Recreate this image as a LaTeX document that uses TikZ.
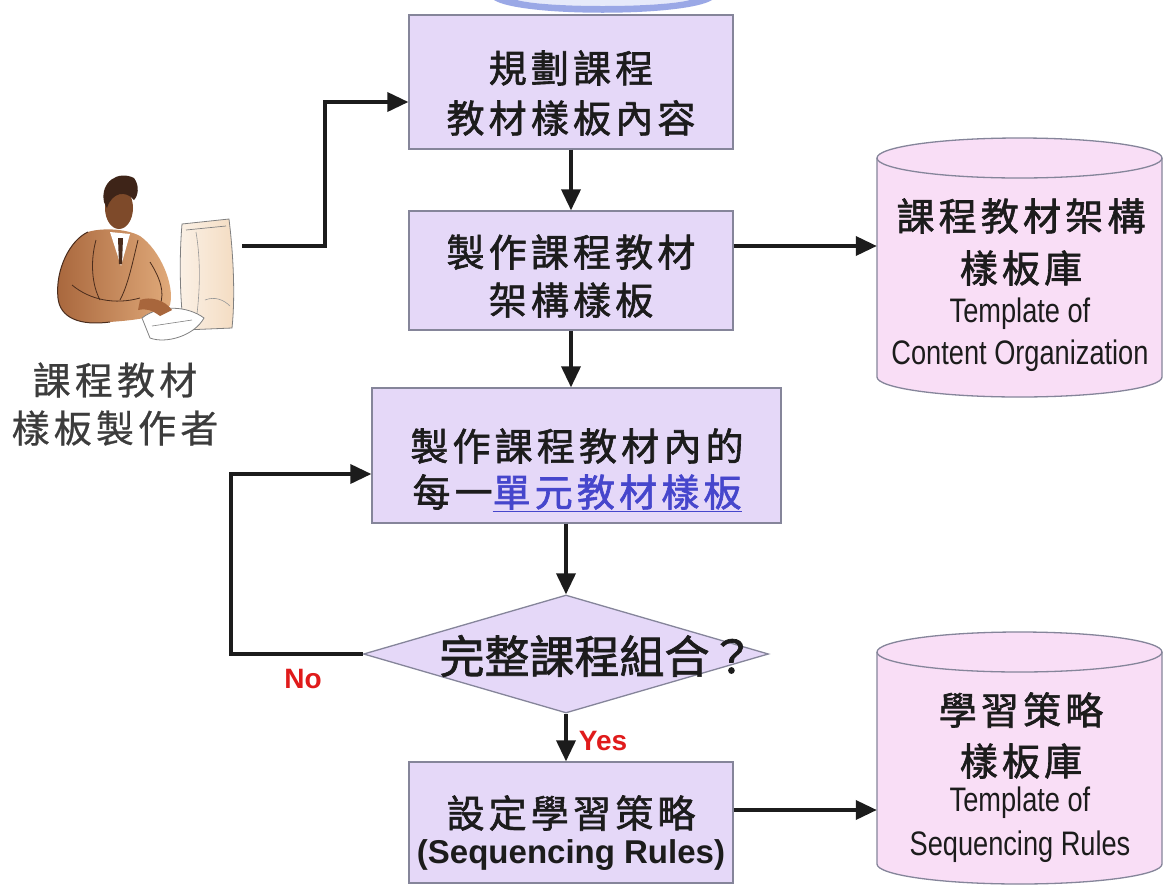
\documentclass[tikz,border=0pt]{standalone}
\usepackage{fontspec}
\setmainfont{Liberation Sans}
\newfontfamily\cjk[LetterSpace=11,FakeBold=1.6]{Noto Sans CJK TC}
\newfontfamily\cjklight[LetterSpace=11,FakeBold=0.6]{Noto Sans CJK TC}
\newfontfamily\cjkwide[FakeBold=1.6]{Noto Sans CJK TC}
\newfontfamily\narrow[FakeStretch=0.8]{Liberation Sans}
\usetikzlibrary{arrows.meta,shapes.geometric}

\definecolor{boxfill}{HTML}{E5D8F8}
\definecolor{cylfill}{HTML}{F9DEF6}
\definecolor{edgegray}{HTML}{85859A}
\definecolor{ink}{HTML}{1C1C1C}
\definecolor{linkblue}{HTML}{4646CC}
\definecolor{labelred}{HTML}{E01B1B}
\definecolor{wmblue}{HTML}{9AA8E6}
\definecolor{wmlight}{HTML}{E6EAFA}
\definecolor{suitdark}{HTML}{A8663C}
\definecolor{suitlight}{HTML}{E2AC7C}
\definecolor{suitline}{HTML}{4A2C1C}
\definecolor{skin}{HTML}{7E4A2A}
\definecolor{hair}{HTML}{3E2418}
\definecolor{monbeige}{HTML}{F4DCC2}
\definecolor{monlight}{HTML}{FBF1E6}
\definecolor{authorgray}{HTML}{3C3C3C}

\begin{document}
\begin{tikzpicture}[x=1pt,y=-1pt,
  stepbox/.style={draw=edgegray, line width=1.3pt, fill=boxfill, inner sep=0pt},
  decision/.style={diamond, draw=edgegray, line width=1.3pt, fill=boxfill, inner sep=0pt},
  storebox/.style={inner sep=0pt},
  cylline/.style={draw=edgegray, line width=1.3pt},
  arr/.style={line width=3.6pt, draw=ink, -{Triangle[length=21pt,width=19pt]}},
  cjktext/.style={text=ink, inner sep=0pt, align=center, font=\cjk\fontsize{38}{50}\selectfont},
  latintext/.style={text=ink, inner sep=0pt, font=\narrow\fontsize{34}{40}\selectfont},
  flaglabel/.style={text=labelred, inner sep=0pt, font=\bfseries\fontsize{28}{32}\selectfont},
]
\useasboundingbox (0,0) rectangle (1163,887);
\fill[white] (0,0) rectangle (1163,887);

% emblem edge at the top
\fill[wmlight] (517,0) .. controls (545,8) and (660,8) .. (690,0) -- cycle;
\fill[wmblue] (494,0) .. controls (520,17) and (685,17) .. (712,0) -- (690,0)
  .. controls (660,8) and (545,8) .. (517,0) -- cycle;

% author figure: monitor
\shade[left color=monlight, right color=monbeige]
  (182,224) -- (229,219) .. controls (234,260) and (235,300) .. (232,328)
  -- (184,330) .. controls (180,300) and (179,260) .. (182,224) -- cycle;
\draw[gray, line width=0.8pt]
  (182,224) -- (229,219) .. controls (234,260) and (235,300) .. (232,328)
  -- (184,330) .. controls (180,300) and (179,260) .. (182,224) -- cycle;
\draw[gray, line width=0.7pt] (186,230) -- (226,226);
\draw[gray!80, line width=0.6pt] (196,232) .. controls (201,262) and (200,292) .. (196,322);
\draw[gray!80, line width=0.6pt] (205,300) .. controls (215,296) and (224,300) .. (230,306);
% author figure: suit
\shade[left color=suitdark, right color=suitlight]
  (88,232) .. controls (70,240) and (55,270) .. (58,298)
  .. controls (60,318) and (80,326) .. (110,322)
  .. controls (135,320) and (160,318) .. (170,305)
  .. controls (175,285) and (160,250) .. (140,236)
  .. controls (125,228) and (100,228) .. (88,232) -- cycle;
\draw[suitline, line width=1pt]
  (88,232) .. controls (70,240) and (55,270) .. (58,298)
  .. controls (60,318) and (80,326) .. (110,322);
\draw[suitline, line width=0.8pt] (96,240) .. controls (90,262) and (92,285) .. (100,300);
\draw[suitline, line width=0.8pt] (138,240) .. controls (132,265) and (128,285) .. (120,300);
\draw[suitline, line width=0.8pt] (72,285) .. controls (90,300) and (115,305) .. (140,298);
\draw[suitline, line width=0.8pt] (150,262) .. controls (160,278) and (165,292) .. (160,305);
% author figure: shirt and tie
\fill[white] (110,232) -- (130,234) -- (121,266) -- cycle;
\fill[suitline] (118,238) -- (123,238) -- (122,264) -- (119,264) -- cycle;
% author figure: head
\fill[skin] (119,208) ellipse [x radius=14, y radius=21];
\fill[hair] (104,202) .. controls (100,182) and (118,170) .. (134,178)
  .. controls (140,186) and (138,196) .. (134,200)
  .. controls (126,190) and (112,192) .. (107,208) -- cycle;
% author figure: hands and keyboard
\draw[gray, line width=0.8pt, fill=white]
  (142,318) .. controls (160,304) and (188,306) .. (204,318)
  .. controls (194,336) and (166,344) .. (150,338) -- cycle;
\draw[gray, line width=0.6pt] (152,326) -- (192,320);
\fill[suitdark] (140,300) .. controls (150,296) and (165,300) .. (172,310)
  -- (160,316) .. controls (152,310) and (145,308) .. (138,310) -- cycle;

% author caption
\node[cjktext, text=authorgray, font=\cjklight\fontsize{38}{48}\selectfont]
  (author) at (115,404) {課程教材\\樣板製作者};
\coordinate (authorout) at (242,246);

% process boxes
\node[stepbox, minimum width=324pt, minimum height=134pt] (plan) at (571,82) {};
\node[stepbox, minimum width=324pt, minimum height=119pt] (frame) at (571,270.5) {};
\node[stepbox, minimum width=409pt, minimum height=135pt] (unit) at (576.5,455.5) {};
\node[decision, minimum width=405pt, minimum height=118pt] (check) at (566,654) {};
\node[stepbox, minimum width=324pt, minimum height=121pt] (rules) at (571,822.5) {};

\node[cjktext] (plantext) at (571,93) {規劃課程\\教材樣板內容};
\node[cjktext, font=\cjk\fontsize{38}{48}\selectfont] (frametext) at (571,276) {製作課程教材\\架構樣板};
\node[cjktext, font=\cjk\fontsize{38}{46}\selectfont] (unittext) at (577,470)
  {製作課程教材內的\\每一\textcolor{linkblue}{\underline{單元教材樣板}}};
\node[cjktext, font=\cjkwide\fontsize{45}{50}\selectfont] (checktext) at (597,656) {完整課程組合？};
\node[cjktext] (rulestext) at (571,813) {設定學習策略};
\node[text=ink, inner sep=0pt, font=\bfseries\fontsize{33}{38}\selectfont] (rulesen) at (571,855) {(Sequencing Rules)};

% template stores
\node[storebox, minimum width=285pt, minimum height=259pt] (orgstore) at (1019.5,267.5) {};
\node[storebox, minimum width=285pt, minimum height=253pt] (seqstore) at (1019.5,758.5) {};

\fill[cylfill] (877,158) -- (877,377) .. controls (877,388) and (940.8,397) .. (1019.5,397)
  .. controls (1098.2,397) and (1162,388) .. (1162,377) -- (1162,158) -- cycle;
\draw[cylline] (877,158) -- (877,377) .. controls (877,388) and (940.8,397) .. (1019.5,397)
  .. controls (1098.2,397) and (1162,388) .. (1162,377) -- (1162,158);
\draw[cylline, fill=cylfill] (1019.5,158) ellipse [x radius=142.5, y radius=20];

\fill[cylfill] (877,652) -- (877,864) .. controls (877,875) and (940.8,884) .. (1019.5,884)
  .. controls (1098.2,884) and (1162,875) .. (1162,864) -- (1162,652) -- cycle;
\draw[cylline] (877,652) -- (877,864) .. controls (877,875) and (940.8,884) .. (1019.5,884)
  .. controls (1098.2,884) and (1162,875) .. (1162,864) -- (1162,652);
\draw[cylline, fill=cylfill] (1019.5,652) ellipse [x radius=142.5, y radius=20];

\node[cjktext] (org1) at (1021,216) {課程教材架構};
\node[cjktext] (org2) at (1021,268) {樣板庫};
\node[latintext] (org3) at (1020,314) {Template of};
\node[latintext] (org4) at (1020,356) {Content Organization};

\node[cjktext] (seq1) at (1021,710) {學習策略};
\node[cjktext] (seq2) at (1021,761) {樣板庫};
\node[latintext] (seq3) at (1020,803) {Template of};
\node[latintext] (seq4) at (1020,847) {Sequencing Rules};

% connectors
\coordinate (bendtop) at (325,102);
\draw[arr] (authorout) -| (bendtop) -- (bendtop -| plan.west);
\draw[arr] (plan.south) -- (frame.north);
\draw[arr] (frame.south) -- (frame.south |- unit.north);
\draw[arr] (unit.south -| check.north) -- (check.north);
\draw[arr] (check.south) -- (check.south |- rules.north);
\draw[arr] ([yshift=24.5pt]frame.east) -- ([yshift=24.5pt]frame.east -| orgstore.west);
\draw[arr] ([yshift=12.5pt]rules.east) -- ([yshift=12.5pt]rules.east -| seqstore.west);
\coordinate (loopcorner) at (231,474);
\draw[arr] (check.west) -| (loopcorner) -- (loopcorner -| unit.west);

\node[flaglabel] (nolabel) at (303,679) {No};
\node[flaglabel] (yeslabel) at (603,741) {Yes};
\end{tikzpicture}
\end{document}
